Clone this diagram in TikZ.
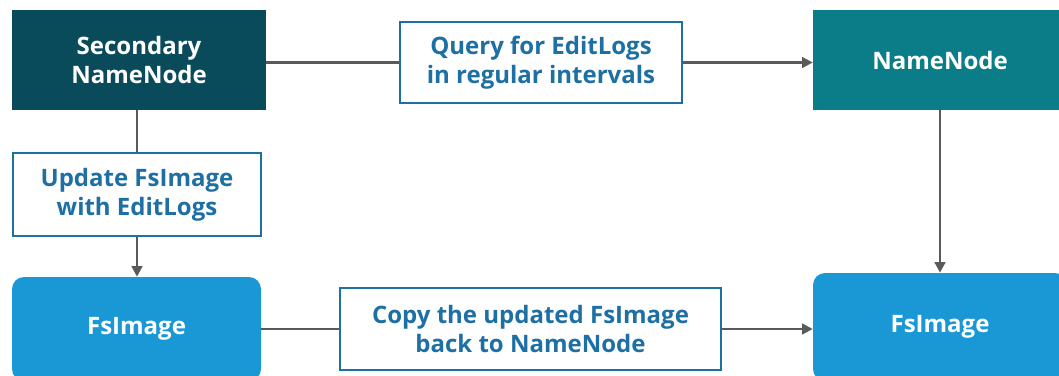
\documentclass[tikz,border=0pt]{standalone}
\usepackage{fontspec}
\setmainfont{Open Sans}
\usepackage{tikz}
\usetikzlibrary{positioning,calc,arrows.meta}
\definecolor{darkteal}{HTML}{0A4B5B}
\definecolor{teal}{HTML}{0A7D89}
\definecolor{skyblue}{HTML}{1A98D5}
\definecolor{txtblue}{HTML}{1E6FA3}
\definecolor{wire}{HTML}{5A5A5A}
\tikzstyle{solid box}= [rectangle, text=white, font=\bfseries\fontsize{18}{21.5}\selectfont, align=center, inner sep=0pt]
\tikzstyle{note}= [rectangle, draw=txtblue, line width=2pt, fill=white, text=txtblue, font=\bfseries\fontsize{18}{21.5}\selectfont, align=center, inner sep=0pt]
\tikzstyle{link}= [draw=wire, line width=1.8pt]
\tikzstyle{flow}= [draw=wire, line width=1.8pt, -{Triangle[length=8pt,width=8pt]}]

\begin{document}
\begin{tikzpicture}[x=0.75pt, y=-0.75pt]
				\useasboundingbox (0,0) rectangle (1059,375);
				\clip (0,0) rectangle (1059,375);
				\node[solid box, fill=darkteal, minimum width=190.5pt, minimum height=75pt] (snn) at (139, 60) {Secondary\\NameNode};
				\node[note, minimum width=211.5pt, minimum height=60.75pt] (query) at (541, 62.5) {Query for EditLogs\\in regular intervals};
				\node[solid box, fill=teal, minimum width=190.5pt, minimum height=75pt] (nn) at (940, 60) {NameNode};
				\node[note, minimum width=186pt, minimum height=62.25pt] (upd) at (137, 194.5) {Update FsImage\\with EditLogs};
				\node[solid box, fill=skyblue, rounded corners=9pt, minimum width=186.75pt, minimum height=78pt] (fsl) at (136.5, 329) {FsImage};
				\node[note, minimum width=285.75pt, minimum height=61.5pt] (copy) at (530.5, 329) {Copy the updated FsImage\\back to NameNode};
				\node[solid box, fill=skyblue, rounded corners=9pt, minimum width=190.5pt, minimum height=81pt] (fsr) at (940, 327) {FsImage};

				\draw[link] (snn.east |- query) -- (query.west);
				\draw[flow] (query.east) -- (nn.west |- query);
				\draw[link] (snn.south -| upd.north) -- (upd.north);
				\draw[flow] (upd.south) -- (fsl.north -| upd.south);
				\draw[flow] (nn.south) -- (fsr.north);
				\draw[link] (fsl.east |- copy) -- (copy.west);
				\draw[flow] (copy.east) -- (fsr.west |- copy);
			\end{tikzpicture}
\end{document}
